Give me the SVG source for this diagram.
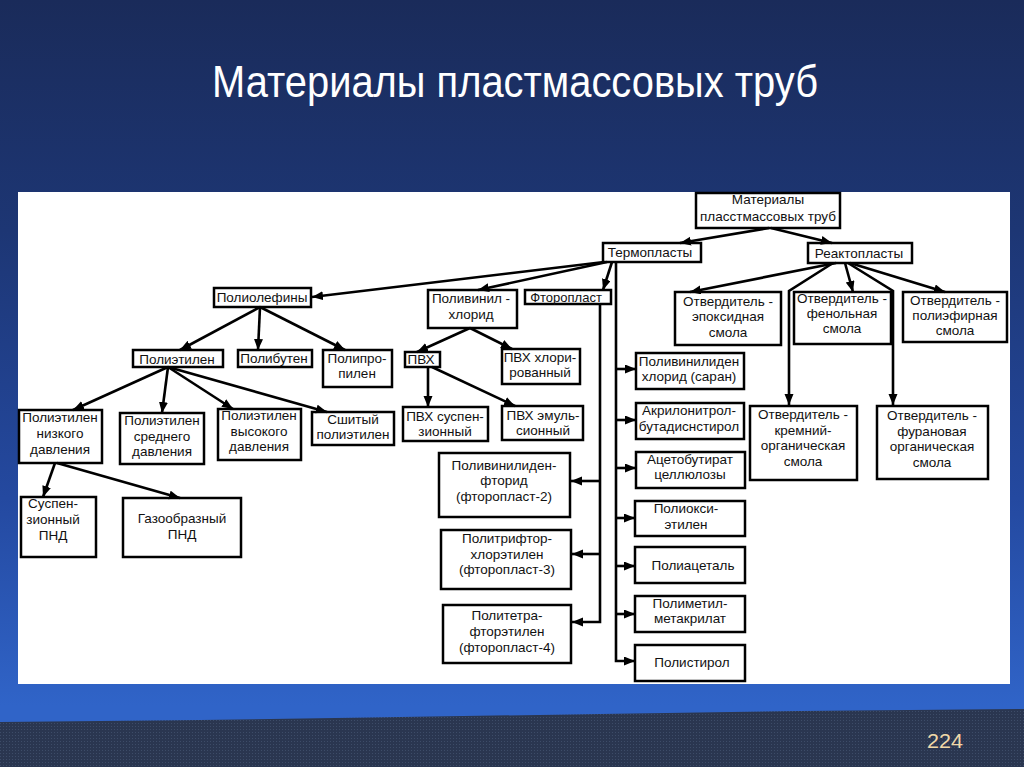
<svg xmlns="http://www.w3.org/2000/svg" width="1024" height="767" viewBox="0 0 1024 767">
<defs>
<linearGradient id="bg" x1="0" y1="0" x2="0" y2="1">
<stop offset="0" stop-color="#1a2b5a"/>
<stop offset="0.3" stop-color="#1d3674"/>
<stop offset="0.65" stop-color="#2449a0"/>
<stop offset="0.92" stop-color="#3064c8"/>
<stop offset="1" stop-color="#3064c8"/>
</linearGradient>
<pattern id="dots" width="3" height="3" patternUnits="userSpaceOnUse">
<rect width="3" height="3" fill="#2a3650"/>
<rect width="1" height="1" fill="#3d4c68"/>
</pattern>
<marker id="ah" markerUnits="userSpaceOnUse" markerWidth="12" markerHeight="10" refX="11" refY="4.5" orient="auto">
<path d="M0,0 L11,4.5 L0,9 Z" fill="#000"/>
</marker>
<style>
.b{fill:#fff;stroke:#000;stroke-width:2.5}
.t{font-family:"Liberation Sans",Arial,sans-serif;font-size:13.5px;fill:#111;text-anchor:middle}
.c{fill:none;stroke:#000;stroke-width:2.6;marker-end:url(#ah)}
.s{fill:none;stroke:#000;stroke-width:2.6}
</style>
</defs>
<rect width="1024" height="767" fill="url(#bg)"/>
<polygon points="0,722 200,720 400,717 600,714 800,711 1024,709 1024,767 0,767" fill="url(#dots)"/>
<text x="515" y="97" font-family="Liberation Sans,Arial,sans-serif" font-size="45" fill="#fff" text-anchor="middle" textLength="606" lengthAdjust="spacingAndGlyphs">Материалы пластмассовых труб</text>
<text x="945" y="748" font-family="Liberation Sans Narrow,Liberation Sans,sans-serif" font-size="20" fill="#f0d8a8" text-anchor="middle" textLength="36" lengthAdjust="spacingAndGlyphs">224</text>
<rect x="18" y="192" width="992" height="492" fill="#fff"/>

<g id="n-root"><rect class="b" x="696" y="193" width="144" height="35"/><text class="t"><tspan x="768" y="204">Материалы</tspan><tspan x="768" y="221">пласстмассовых труб</tspan></text></g>
<g id="n-thermo"><rect class="b" x="603" y="243" width="98" height="19"/><text class="t" x="650" y="257">Термопласты</text></g>
<g id="n-reacto"><rect class="b" x="808" y="243" width="104" height="20"/><text class="t" x="859" y="258">Реактопласты</text></g>
<g id="n-poliolef"><rect class="b" x="214" y="288" width="97" height="19"/><text class="t" x="262" y="302">Полиолефины</text></g>
<g id="n-pvc-main"><rect class="b" x="428" y="290" width="89" height="38"/><text class="t"><tspan x="471" y="303">Поливинил -</tspan><tspan x="471" y="319">хлорид</tspan></text></g>
<g id="n-ftoro"><rect class="b" x="525" y="290" width="86" height="14"/><text class="t" x="566" y="302" style="font-size:13px">Фторопласт</text></g>
<g id="n-epoxy"><rect class="b" x="675" y="292" width="106" height="53"/><text class="t"><tspan x="728" y="306">Отвердитель -</tspan><tspan x="728" y="321">эпоксидная</tspan><tspan x="728" y="337">смола</tspan></text></g>
<g id="n-phenol"><rect class="b" x="794" y="292" width="97" height="52"/><text class="t"><tspan x="842" y="303">Отвердитель -</tspan><tspan x="842" y="318">фенольная</tspan><tspan x="842" y="333">смола</tspan></text></g>
<g id="n-polyester"><rect class="b" x="903" y="292" width="104" height="50"/><text class="t"><tspan x="955" y="305">Отвердитель -</tspan><tspan x="955" y="320">полиэфирная</tspan><tspan x="955" y="335">смола</tspan></text></g>
<g id="n-pe"><rect class="b" x="133" y="350" width="90" height="17"/><text class="t" x="177" y="364">Полиэтилен</text></g>
<g id="n-pb"><rect class="b" x="238" y="350" width="74" height="17"/><text class="t" x="274" y="363">Полибутен</text></g>
<g id="n-pp"><rect class="b" x="323" y="350" width="69" height="37"/><text class="t"><tspan x="357" y="363">Полипро-</tspan><tspan x="357" y="378">пилен</tspan></text></g>
<g id="n-pvc"><rect class="b" x="405" y="352" width="35" height="15"/><text class="t" x="421" y="364">ПВХ</text></g>
<g id="n-pvc-chl"><rect class="b" x="502" y="349" width="78" height="35"/><text class="t"><tspan x="540" y="362">ПВХ хлори-</tspan><tspan x="540" y="377">рованный</tspan></text></g>
<g id="n-saran"><rect class="b" x="636" y="353" width="108" height="36"/><text class="t"><tspan x="689" y="366">Поливинилиден</tspan><tspan x="689" y="381">хлорид (саран)</tspan></text></g>
<g id="n-pe-low"><rect class="b" x="19" y="410" width="83" height="53"/><text class="t"><tspan x="60" y="422">Полиэтилен</tspan><tspan x="60" y="438">низкого</tspan><tspan x="60" y="454">давления</tspan></text></g>
<g id="n-pe-mid"><rect class="b" x="120" y="413" width="84" height="51"/><text class="t"><tspan x="162" y="425">Полиэтилен</tspan><tspan x="162" y="441">среднего</tspan><tspan x="162" y="456">давления</tspan></text></g>
<g id="n-pe-high"><rect class="b" x="218" y="409" width="83" height="51"/><text class="t"><tspan x="259" y="420">Полиэтилен</tspan><tspan x="259" y="436">высокого</tspan><tspan x="259" y="451">давления</tspan></text></g>
<g id="n-pex"><rect class="b" x="312" y="412" width="82" height="33"/><text class="t"><tspan x="353" y="424">Сшитый</tspan><tspan x="353" y="439">полиэтилен</tspan></text></g>
<g id="n-pvc-susp"><rect class="b" x="403" y="407" width="85" height="34"/><text class="t"><tspan x="445" y="421">ПВХ суспен-</tspan><tspan x="445" y="436">зионный</tspan></text></g>
<g id="n-pvc-emul"><rect class="b" x="502" y="406" width="81" height="34"/><text class="t"><tspan x="543" y="420">ПВХ эмуль-</tspan><tspan x="543" y="435">сионный</tspan></text></g>
<g id="n-abs"><rect class="b" x="636" y="403" width="108" height="36"/><text class="t"><tspan x="689" y="415">Акрилонитрол-</tspan><tspan x="689" y="431">бутадиснстирол</tspan></text></g>
<g id="n-silicon"><rect class="b" x="750" y="406" width="107" height="74"/><text class="t"><tspan x="803" y="419">Отвердитель -</tspan><tspan x="803" y="435">кремний-</tspan><tspan x="803" y="450">органическая</tspan><tspan x="803" y="466">смола</tspan></text></g>
<g id="n-furan"><rect class="b" x="877" y="406" width="111" height="73"/><text class="t"><tspan x="932" y="420">Отвердитель -</tspan><tspan x="932" y="436">фурановая</tspan><tspan x="932" y="451">органическая</tspan><tspan x="932" y="467">смола</tspan></text></g>
<g id="n-acetobut"><rect class="b" x="636" y="452" width="109" height="36"/><text class="t"><tspan x="690" y="464">Ацетобутират</tspan><tspan x="690" y="479">целлюлозы</tspan></text></g>
<g id="n-f2"><rect class="b" x="439" y="453" width="131" height="64"/><text class="t"><tspan x="504" y="470">Поливинилиден-</tspan><tspan x="504" y="485">фторид</tspan><tspan x="504" y="501">(фторопласт-2)</tspan></text></g>
<g id="n-pnd-susp"><rect class="b" x="21" y="497" width="75" height="60"/><text class="t"><tspan x="53" y="508">Суспен-</tspan><tspan x="53" y="524">зионный</tspan><tspan x="53" y="540">ПНД</tspan></text></g>
<g id="n-pnd-gas"><rect class="b" x="123" y="498" width="118" height="59"/><text class="t"><tspan x="182" y="523">Газообразный</tspan><tspan x="182" y="539">ПНД</tspan></text></g>
<g id="n-polyoxy"><rect class="b" x="635" y="501" width="110" height="35"/><text class="t"><tspan x="686" y="513">Полиокси-</tspan><tspan x="686" y="529">этилен</tspan></text></g>
<g id="n-f3"><rect class="b" x="441" y="530" width="130" height="59"/><text class="t"><tspan x="507" y="543">Политрифтор-</tspan><tspan x="507" y="559">хлорэтилен</tspan><tspan x="507" y="574">(фторопласт-3)</tspan></text></g>
<g id="n-polyacetal"><rect class="b" x="635" y="547" width="110" height="36"/><text class="t" x="693" y="570">Полиацеталь</text></g>
<g id="n-pmma"><rect class="b" x="635" y="596" width="110" height="36"/><text class="t"><tspan x="690" y="608">Полиметил-</tspan><tspan x="690" y="623">метакрилат</tspan></text></g>
<g id="n-f4"><rect class="b" x="443" y="605" width="128" height="58"/><text class="t"><tspan x="507" y="620">Политетра-</tspan><tspan x="507" y="636">фторэтилен</tspan><tspan x="507" y="652">(фторопласт-4)</tspan></text></g>
<g id="n-ps"><rect class="b" x="635" y="645" width="110" height="36"/><text class="t" x="692" y="667">Полистирол</text></g>

<g id="connectors">
<path class="c" d="M769,228 L680,243"/>
<path class="c" d="M771,228 L832,243"/>
<path class="c" d="M604,262 L312,297"/>
<path class="c" d="M607,262 L478,290"/>
<path class="c" d="M612,262 L603,290"/>
<path class="c" d="M616,262 V661 H635"/>
<path class="c" d="M616,369 H636"/>
<path class="c" d="M616,420 H636"/>
<path class="c" d="M616,468 H636"/>
<path class="c" d="M616,518 H635"/>
<path class="c" d="M616,566 H635"/>
<path class="c" d="M616,614 H635"/>
<path class="c" d="M600,304 V622 H572"/>
<path class="c" d="M600,481 H571"/>
<path class="c" d="M600,554 H572"/>
<path class="c" d="M836,263 L690,292"/>
<path class="c" d="M845,263 L853,292"/>
<path class="c" d="M850,263 L945,292"/>
<path class="c" d="M833,263 L789,291 V405"/>
<path class="c" d="M848,263 L893,291 V405"/>
<path class="c" d="M260,307 L180,350"/>
<path class="c" d="M260,307 L258,350"/>
<path class="c" d="M260,307 L345,350"/>
<path class="c" d="M168,367 L73,410"/>
<path class="c" d="M168,367 L162,413"/>
<path class="c" d="M168,367 L233,409"/>
<path class="c" d="M168,367 L327,412"/>
<path class="c" d="M55,463 L43,497"/>
<path class="c" d="M57,463 L180,498"/>
<path class="c" d="M470,328 L417,352"/>
<path class="c" d="M470,328 L512,349"/>
<path class="c" d="M428,367 V407"/>
<path class="c" d="M432,367 L515,406"/>
</g>
</svg>
